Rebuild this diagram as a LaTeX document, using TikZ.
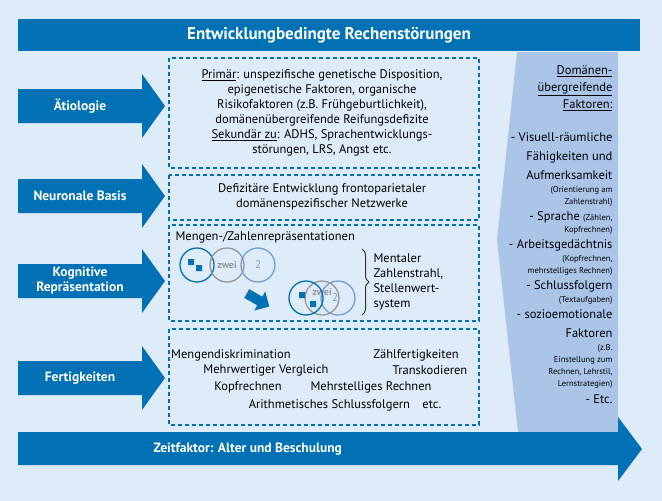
\documentclass[tikz,border=0pt]{standalone}
\usepackage{fontspec}
\setmainfont{PT Sans}
\usetikzlibrary{arrows.meta,decorations.pathreplacing}
\definecolor{rsblue}{RGB}{0,113,181}
\definecolor{rsbg}{RGB}{222,235,248}
\definecolor{rspanel}{RGB}{171,197,233}
\definecolor{rslight}{RGB}{110,160,220}
\definecolor{rsgray}{RGB}{150,150,150}

\tikzset{
    fieldbox/.style={draw=rsblue, dashed, line width=1.1pt, dash pattern=on 4pt off 3pt},
    levelarrow/.style={fill=rsblue, draw=none},
    levellabel/.style={text=white, font=\fontsize{13.5}{15}\selectfont\bfseries, align=center},
    bodytext/.style={font=\fontsize{12.5}{15}\selectfont, align=center},
    sidetext/.style={font=\fontsize{12.5}{19}\selectfont, align=right, anchor=north east},
    ring/.style={draw, line width=1.3pt, circle, minimum size=34pt, inner sep=0pt}
}
\newcommand{\sm}[1]{{\fontsize{8.5}{11}\selectfont #1}}

\begin{document}
\begin{tikzpicture}[x=1pt, y=-1pt]
    \fill[rsbg] (0,0) rectangle (662,501);
    \useasboundingbox (0,0) rectangle (662,501);

    % side panel
    \fill[rspanel] (517,52) -- (618,52) -- (618,432) -- (518,432) -- (497,240) -- cycle;
    \node[sidetext] (side) at (616,62) {\underline{Domänen-}\\[-2pt]\underline{übergreifende}\\[-2pt]\underline{Faktoren:}\\[14pt]
        - Visuell-räumliche\\Fähigkeiten und\\Aufmerksamkeit\\[-6pt]\sm{(Orientierung am}\\[-7pt]\sm{Zahlenstrahl)}\\[-3pt]
        - Sprache \sm{(Zählen,}\\[-7pt]\sm{Kopfrechnen)}\\[-3pt]
        - Arbeitsgedächtnis\\[-6pt]\sm{(Kopfrechnen,}\\[-7pt]\sm{mehrstelliges Rechnen)}\\[-3pt]
        - Schlussfolgern\\[-6pt]\sm{(Textaufgaben)}\\[-3pt]
        - sozioemotionale\\Faktoren\\[-6pt]\sm{(z.B.}\\[-7pt]\sm{Einstellung zum}\\[-7pt]\sm{Rechnen, Lehrstil,}\\[-7pt]\sm{Lernstrategien)}\\[-2pt]
        - Etc.};

    % title
    \fill[rsblue] (18,19) rectangle (640,51);
    \node[levellabel, font=\fontsize{17}{19}\selectfont\bfseries] (title) at (329,35) {Entwicklungbedingte Rechenstörungen};

    % time arrow
    \fill[levelarrow] (18,432) -- (618,432) -- (618,417) -- (642,449) -- (618,481) -- (618,465) -- (18,465) -- cycle;
    \node[levellabel, anchor=west] (zeit) at (150,449) {Zeitfaktor: Alter und Beschulung};

    % level arrows
    \foreach \cy/\txt [count=\i] in {106/Ätiologie, 196/Neuronale Basis, 281/Kognitive\\Repräsentation, 378/Fertigkeiten}{
        \fill[levelarrow] (18,\cy-17) -- (142,\cy-17) -- (142,\cy-32) -- (165,\cy) -- (142,\cy+32) -- (142,\cy+17) -- (18,\cy+17) -- cycle;
        \node[levellabel] (lv\i) at (80,\cy) {\txt};
    }

    % dashed fields
    \draw[fieldbox] (169,58) rectangle (479,168);
    \draw[fieldbox] (169,175) rectangle (479,220);
    \draw[fieldbox] (169,225) rectangle (479,321);
    \draw[fieldbox] (169,329) rectangle (479,425);

    \node[bodytext] (aet) at (322,113) {\underline{Primär}: unspezifische genetische Disposition,\\epigenetische Faktoren, organische\\Risikofaktoren (z.B. Frühgeburtlichkeit),\\domänenübergreifende Reifungsdefizite\\\underline{Sekundär zu}: ADHS, Sprachentwicklungs-\\störungen, LRS, Angst etc.};
    \node[bodytext] (neuro) at (322,197) {Defizitäre Entwicklung frontoparietaler\\domänenspezifischer Netzwerke};

    % representations
    \node[bodytext, anchor=west] (menge) at (172,237) {Mengen-/Zahlenrepräsentationen};
    \node[ring, draw=rsblue] (qa) at (197,265) {};
    \node[ring, draw=rsgray, text=rsgray, font=\fontsize{10}{10}\selectfont\bfseries] (wa) at (227,265) {zwei};
    \node[ring, draw=rslight, text=rslight, font=\fontsize{11}{11}\selectfont] (na) at (258,265) {2};
    \fill[rsblue] (188,259) rectangle (194,265) (196,265) rectangle (202,271);
    \node[ring, draw=rslight, text=rslight, font=\fontsize{11}{11}\selectfont] (nb) at (338,298) {\hspace*{-6pt}2};
    \node[ring, draw=rsgray, text=rsgray, font=\fontsize{10}{10}\selectfont\bfseries] (wb) at (322,298) {\raisebox{12pt}{zwei}};
    \node[ring, draw=rsblue] (qb) at (306,298) {};
    \fill[rsblue] (299,292) rectangle (305,298) (310,301) rectangle (316,307);
    \fill[rsblue, shift={(258,300)}, rotate=-30] (-13,-5) -- (2,-5) -- (2,-11) -- (13,0) -- (2,11) -- (2,5) -- (-13,5) -- cycle;
    \draw[decorate, decoration={brace, amplitude=7pt}, line width=1pt, black!80] (362,249) -- (362,315);
    \node[bodytext, align=left, anchor=west] (strahl) at (370,282) {Mentaler\\Zahlenstrahl,\\Stellenwert-\\system};

    % skills
    \node[bodytext] (s1) at (231,355) {Mengendiskrimination};
    \node[bodytext] (s2) at (416,355) {Zählfertigkeiten};
    \node[bodytext] (s3) at (266,370) {Mehrwertiger Vergleich};
    \node[bodytext] (s4) at (430,370) {Transkodieren};
    \node[bodytext] (s5) at (248,387) {Kopfrechnen};
    \node[bodytext] (s6) at (371,387) {Mehrstelliges Rechnen};
    \node[bodytext] (s7) at (345,405) {Arithmetisches Schlussfolgern\quad etc.};
\end{tikzpicture}
\end{document}
